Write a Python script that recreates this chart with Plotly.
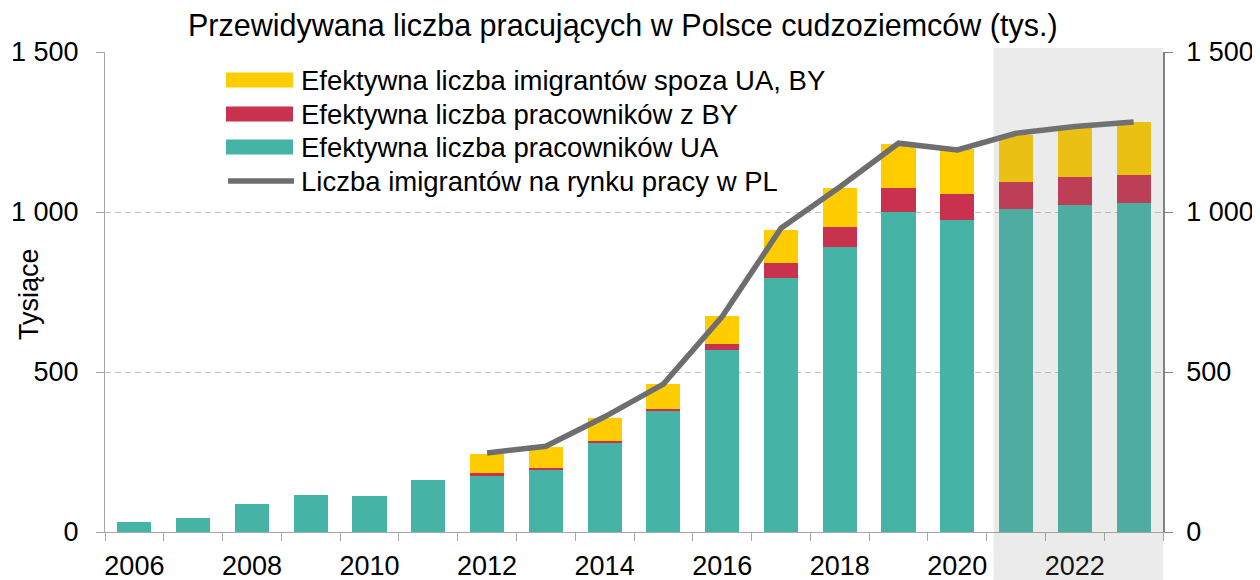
import plotly.graph_objects as go

# ---- data (thousands) ----
years = list(range(2006, 2024))
ua_workers = [31, 44, 88, 116, 112, 163, 178, 195, 279, 379, 569, 793, 892, 1001, 975, 1009, 1022, 1027]
by_workers = [0, 0, 0, 0, 0, 0, 6, 5, 5, 5, 19, 49, 62, 73, 80, 85, 86, 89]
other_workers = [0, 0, 0, 0, 0, 0, 61, 66, 73, 80, 88, 102, 122, 138, 141, 146, 153, 165]
line_years = list(range(2012, 2024))
immigrants_total = [247, 268, 360, 462, 673, 949, 1078, 1215, 1194, 1246, 1267, 1281]

x_tick_years = [2006, 2008, 2010, 2012, 2014, 2016, 2018, 2020, 2022]
y_tick_vals = [0, 500, 1000, 1500]
y_tick_text = ["0", "500", "1 000", "1 500"]

title_text = "Przewidywana liczba pracujących w Polsce cudzoziemców (tys.)"
y_title = "Tysiące"
names = [
    "Efektywna liczba imigrantów spoza UA, BY",
    "Efektywna liczba pracowników z BY",
    "Efektywna liczba pracowników UA",
    "Liczba imigrantów na rynku pracy w PL",
]

# ---- style ----
C_UA = "#45B4A6"
C_BY = "#C8324F"
C_OT = "#FFCC00"
C_LINE = "#6E6E70"
FONT = "Liberation Sans, Arial, sans-serif"
FS = 27

# page body has an 8px default margin, so the figure is sized to fit the window
W, H = 1252, 572
ML, MR, MT, MB = 97, 97, 44, 48
PW, PH = W - ML - MR, H - MT - MB
# plot area in window pixels: x 105..1163, y 52..532
WIN_L, WIN_B = 105, 532


def px_x(px):
    return (px - WIN_L) / PW


def px_y(py):
    return (WIN_B - py) / PH


fig = go.Figure()
fig.add_trace(go.Bar(x=years, y=ua_workers, marker=dict(color=C_UA, line=dict(width=0)),
                     width=0.58, name=names[2], showlegend=False))
fig.add_trace(go.Bar(x=years, y=by_workers, marker=dict(color=C_BY, line=dict(width=0)),
                     width=0.58, name=names[1], showlegend=False))
fig.add_trace(go.Bar(x=years, y=other_workers, marker=dict(color=C_OT, line=dict(width=0)),
                     width=0.58, name=names[0], showlegend=False))
fig.add_trace(go.Scatter(x=line_years, y=immigrants_total, mode="lines",
                         line=dict(color=C_LINE, width=5.5), name=names[3],
                         showlegend=False, yaxis="y2"))

axis_gray = "#A6A6A6"
fig.update_layout(
    width=W, height=H,
    autosize=False,
    barmode="stack",
    bargap=0,
    margin=dict(l=ML, r=MR, t=MT, b=MB, pad=0, autoexpand=False),
    paper_bgcolor="white",
    plot_bgcolor="white",
    font=dict(family=FONT, size=FS, color="#000000"),
    showlegend=False,
    xaxis=dict(
        range=[2005.5, 2023.5], automargin=False,
        tickmode="array", tickvals=x_tick_years,
        ticks="", showgrid=False, zeroline=False,
        showline=True, linecolor=axis_gray, linewidth=1,
        tickfont=dict(size=FS, family=FONT, color="#000000"),
        ticklabelstandoff=10,
        minor=dict(tickmode="linear", tick0=2005.5, dtick=1, ticks="outside",
                   ticklen=8, tickcolor=axis_gray, tickwidth=1, showgrid=False),
    ),
    yaxis=dict(
        range=[0, 1500], automargin=False,
        tickmode="array", tickvals=y_tick_vals, ticktext=y_tick_text,
        ticks="outside", ticklen=8, tickcolor=axis_gray,
        showline=True, linecolor=axis_gray, linewidth=1,
        showgrid=True, gridcolor="#C4C4C4", griddash="6px,4px", gridwidth=1,
        zeroline=False,
        tickfont=dict(size=FS, family=FONT, color="#000000"),
        ticklabelstandoff=12,
    ),
    yaxis2=dict(
        range=[0, 1500], overlaying="y", side="right", automargin=False,
        tickmode="array", tickvals=y_tick_vals, ticktext=y_tick_text,
        ticks="outside", ticklen=8, tickcolor="#808080",
        showline=True, linecolor="#808080", linewidth=1.5,
        showgrid=False, zeroline=False,
        tickfont=dict(size=FS, family=FONT, color="#000000"),
        ticklabelstandoff=8,
    ),
)

# forecast shading
fig.add_shape(type="rect", xref="x", yref="paper",
              x0=2020.62, x1=2023.5, y0=px_y(580), y1=px_y(48),
              fillcolor="rgba(128,128,128,0.16)", line=dict(width=0), layer="above")

# manual legend
legend_rows = [80, 114, 147, 181]
legend_colors = [C_OT, C_BY, C_UA]
for i, col in enumerate(legend_colors):
    fig.add_shape(type="rect", xref="paper", yref="paper",
                  x0=px_x(226), x1=px_x(293),
                  y0=px_y(legend_rows[i] + 7.5), y1=px_y(legend_rows[i] - 7.5),
                  fillcolor=col, line=dict(width=0), layer="above")
fig.add_shape(type="line", xref="paper", yref="paper",
              x0=px_x(228), x1=px_x(294), y0=px_y(legend_rows[3]), y1=px_y(legend_rows[3]),
              line=dict(color=C_LINE, width=5.5), layer="above")
for i, nm in enumerate(names):
    fig.add_annotation(text=nm, xref="paper", yref="paper",
                       x=px_x(299), y=px_y(legend_rows[i]),
                       xanchor="left", yanchor="middle", showarrow=False,
                       font=dict(size=27.5, family=FONT, color="#000000"))

# title
fig.add_annotation(text=title_text, xref="paper", yref="paper",
                   x=px_x(623), y=px_y(25), xanchor="center", yanchor="middle",
                   showarrow=False, font=dict(size=30.5, family=FONT, color="#000000"))
# y axis title
fig.add_annotation(text=y_title, xref="paper", yref="paper",
                   x=px_x(29), y=px_y(294), xanchor="center", yanchor="middle",
                   textangle=-90, showarrow=False,
                   font=dict(size=FS, family=FONT, color="#000000"))

fig.write_html("out.html")
